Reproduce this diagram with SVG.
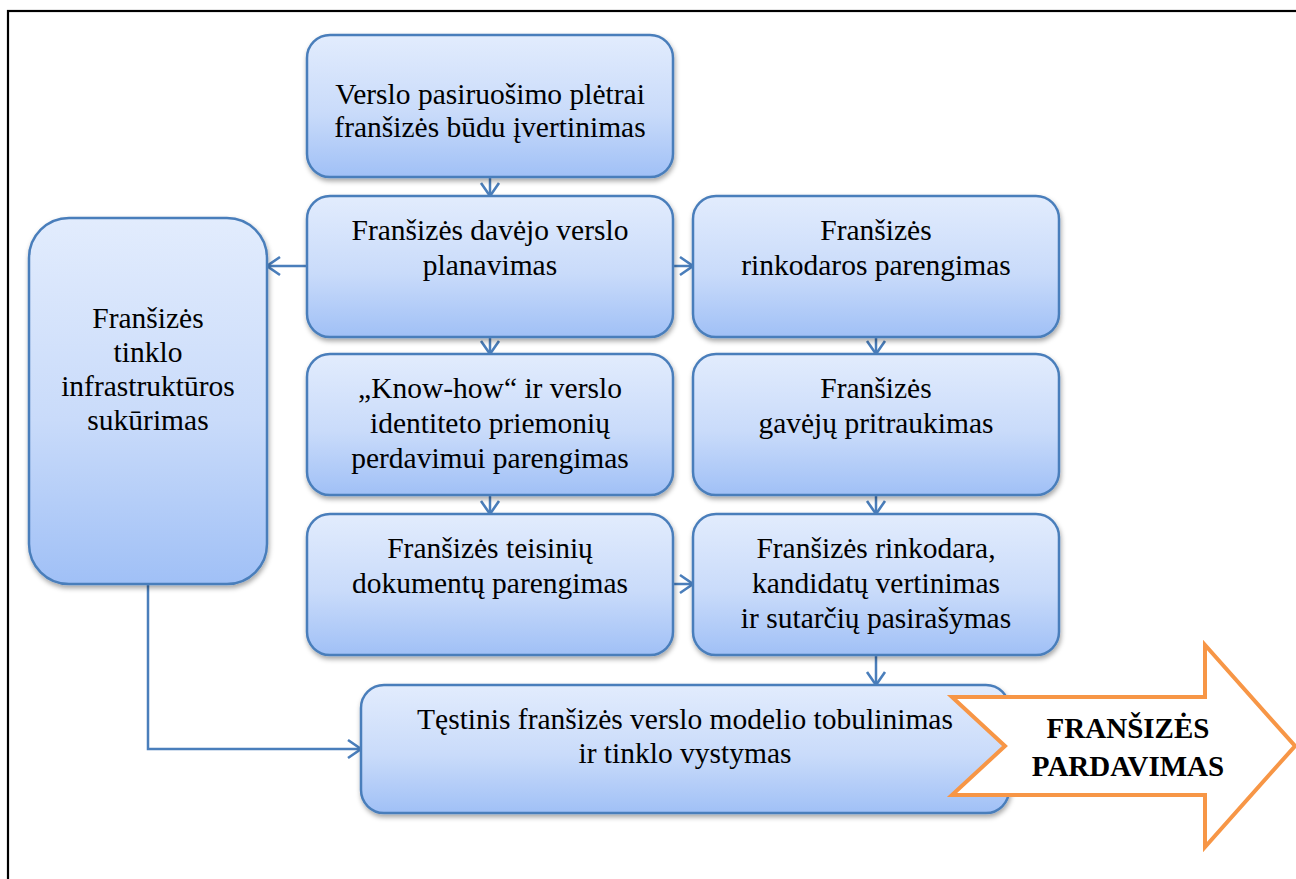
<svg xmlns="http://www.w3.org/2000/svg" width="1296" height="879" viewBox="0 0 1296 879">
  <defs>
    <linearGradient id="boxFill" x1="0" y1="0" x2="0" y2="1">
      <stop offset="0" stop-color="#E2ECFD"/>
      <stop offset="0.55" stop-color="#C9DBFA"/>
      <stop offset="1" stop-color="#A0C0F6"/>
    </linearGradient>
    <filter id="shadow" x="-10%" y="-10%" width="120%" height="130%">
      <feDropShadow dx="1" dy="3" stdDeviation="2.5" flood-color="#000" flood-opacity="0.35"/>
    </filter>
    <marker id="chevron" viewBox="0 0 16 22" refX="14.5" refY="11" markerWidth="16" markerHeight="22" orient="auto" markerUnits="userSpaceOnUse">
      <path d="M1.5,2 L14.5,11 L1.5,20" fill="none" stroke="#4A7EBB" stroke-width="2.6" stroke-linejoin="miter"/>
    </marker>
    <style>
      .box { fill: url(#boxFill); stroke: #4A7EBB; stroke-width: 2.5; filter: url(#shadow); }
      .lbl { font-family: "Liberation Serif", "Times New Roman", serif; font-size: 29.5px; font-weight: 400; fill: #000; text-anchor: middle; }
      .big { font-family: "Liberation Serif", "Times New Roman", serif; font-size: 29px; font-weight: 700; fill: #000; text-anchor: middle; }
      .conn { fill: none; stroke: #4A7EBB; stroke-width: 2.5; marker-end: url(#chevron); }
    </style>
  </defs>

  <rect x="0" y="0" width="1296" height="879" fill="#fff"/>
  <!-- outer frame -->
  <rect x="8" y="11" width="1400" height="1000" fill="none" stroke="#000" stroke-width="2.2"/>

  <!-- connectors -->
  <g id="connectors">
    <path class="conn" d="M490,177 V196"/>
    <path class="conn" d="M307,266 H267"/>
    <path class="conn" d="M673,266 H693"/>
    <path class="conn" d="M490,337 V354"/>
    <path class="conn" d="M490,495 V514"/>
    <path class="conn" d="M876,337 V354"/>
    <path class="conn" d="M876,495 V514"/>
    <path class="conn" d="M673,584 H693"/>
    <path class="conn" d="M876,655 V685"/>
    <path class="conn" d="M148,584 V749 H361"/>
  </g>

  <g id="n-pasiruosimas">
    <rect class="box" x="307" y="35" width="366" height="142" rx="23"/>
    <text class="lbl" x="490" y="104">Verslo pasiruošimo plėtrai</text>
    <text class="lbl" x="490" y="137">franšizės būdu įvertinimas</text>
  </g>

  <g id="n-planavimas">
    <rect class="box" x="307" y="196" width="366" height="141" rx="23"/>
    <text class="lbl" x="490" y="240">Franšizės davėjo verslo</text>
    <text class="lbl" x="490" y="275">planavimas</text>
  </g>

  <g id="n-knowhow">
    <rect class="box" x="307" y="354" width="366" height="141" rx="23"/>
    <text class="lbl" x="490" y="398">„Know-how“ ir verslo</text>
    <text class="lbl" x="490" y="433">identiteto priemonių</text>
    <text class="lbl" x="490" y="468">perdavimui parengimas</text>
  </g>

  <g id="n-teisiniai">
    <rect class="box" x="307" y="514" width="366" height="141" rx="23"/>
    <text class="lbl" x="490" y="558">Franšizės teisinių</text>
    <text class="lbl" x="490" y="593">dokumentų parengimas</text>
  </g>

  <g id="n-rinkodara">
    <rect class="box" x="693" y="196" width="366" height="141" rx="23"/>
    <text class="lbl" x="876" y="240">Franšizės</text>
    <text class="lbl" x="876" y="275">rinkodaros parengimas</text>
  </g>

  <g id="n-pritraukimas">
    <rect class="box" x="693" y="354" width="366" height="141" rx="23"/>
    <text class="lbl" x="876" y="398">Franšizės</text>
    <text class="lbl" x="876" y="433">gavėjų pritraukimas</text>
  </g>

  <g id="n-sutartys">
    <rect class="box" x="693" y="514" width="366" height="141" rx="23"/>
    <text class="lbl" x="876" y="558">Franšizės rinkodara,</text>
    <text class="lbl" x="876" y="593">kandidatų vertinimas</text>
    <text class="lbl" x="876" y="628">ir sutarčių pasirašymas</text>
  </g>

  <g id="n-infrastruktura">
    <rect class="box" x="29" y="218" width="238" height="366" rx="40"/>
    <text class="lbl" x="148" y="328">Franšizės</text>
    <text class="lbl" x="148" y="362">tinklo</text>
    <text class="lbl" x="148" y="396">infrastruktūros</text>
    <text class="lbl" x="148" y="430">sukūrimas</text>
  </g>

  <g id="n-tobulinimas">
    <rect class="box" x="361" y="685" width="648" height="128" rx="23"/>
    <text class="lbl" x="685" y="729">Tęstinis franšizės verslo modelio tobulinimas</text>
    <text class="lbl" x="685" y="763">ir tinklo vystymas</text>
  </g>

  <g id="n-pardavimas">
    <polygon points="952,697 1205,697 1205,645 1295,746 1205,847 1205,795 952,795 1005,746" fill="#fff" stroke="#F79646" stroke-width="4" stroke-linejoin="miter"/>
    <text class="big" x="1128" y="738">FRANŠIZĖS</text>
    <text class="big" x="1128" y="776">PARDAVIMAS</text>
  </g>
</svg>
